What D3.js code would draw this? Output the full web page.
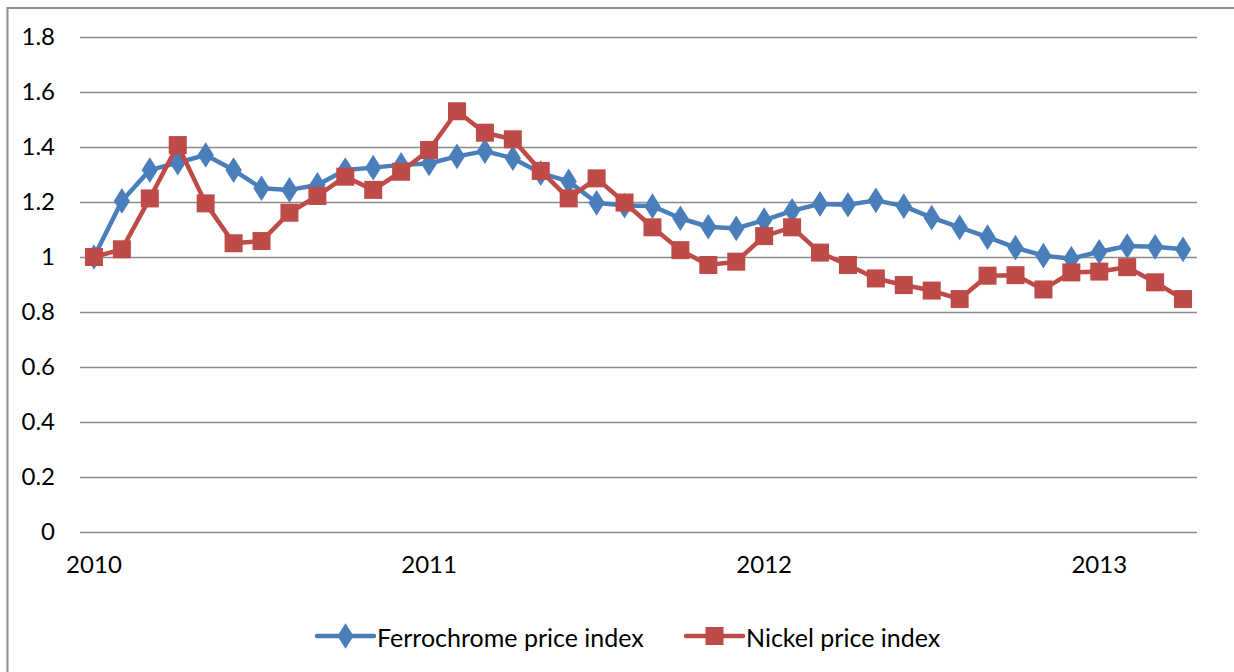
<!DOCTYPE html>
<html>
<head>
<meta charset="utf-8">
<script src="https://cdn.jsdelivr.net/npm/d3@7"></script>
<style>
  body { margin: 0; background: #fff; }
  text { font-family: Lato, "Open Sans", sans-serif; fill: #000; }
</style>
</head>
<body>
<div id="viz"></div>
<script>
const width = 1234;
const height = 672;
const margin = { top: 37, right: 37, bottom: 140, left: 80 };

// monthly index, Jan 2010 .. Apr 2013
const months = d3.range(40).map(i => new Date(2010, i, 1));
const yearTicks = ['2010', '2011', '2012', '2013'];
const yTicks = [0, 0.2, 0.4, 0.6, 0.8, 1, 1.2, 1.4, 1.6, 1.8];

const ferrochrome = [
  1.0, 1.204, 1.316, 1.343, 1.371, 1.316, 1.25, 1.244, 1.262, 1.316, 1.325, 1.335,
  1.34, 1.366, 1.385, 1.359, 1.305, 1.275, 1.197, 1.187, 1.185, 1.141, 1.11, 1.104,
  1.134, 1.168, 1.193, 1.19, 1.206, 1.185, 1.143, 1.108, 1.072, 1.034, 1.005, 0.994,
  1.019, 1.04, 1.037, 1.028
];
const nickel = [
  1.0, 1.028, 1.213, 1.407, 1.195, 1.05, 1.058, 1.161, 1.222, 1.292, 1.244, 1.31,
  1.389, 1.53, 1.452, 1.428, 1.313, 1.213, 1.286, 1.198, 1.108, 1.025, 0.971, 0.983,
  1.076, 1.108, 1.016, 0.971, 0.922, 0.898, 0.878, 0.847, 0.932, 0.934, 0.882, 0.944,
  0.947, 0.963, 0.908, 0.847
];

const blue = '#4a7ebb';
const red = '#be4b48';

const innerW = 1197 - margin.left;
const innerH = 532 - margin.top;

const svg = d3.select('#viz').append('svg')
  .attr('width', width)
  .attr('height', height);

// outer chart border
svg.append('rect')
  .attr('x', 7.5).attr('y', 8)
  .attr('width', 1240).attr('height', 700)
  .attr('fill', 'none')
  .attr('stroke', '#8c8c8c')
  .attr('stroke-width', 2);

const chart = svg.append('g')
  .attr('transform', `translate(${margin.left}, ${margin.top})`);

const x = d3.scaleBand()
  .domain(d3.range(months.length))
  .range([0, innerW]);

const y = d3.scaleLinear()
  .domain([0, 1.8])
  .range([innerH, 0]);

const cx = i => x(i) + x.bandwidth() / 2;

// gridlines
chart.append('g')
  .selectAll('line')
  .data(yTicks)
  .join('line')
    .attr('x1', 0).attr('x2', innerW)
    .attr('y1', d => Math.round(y(d)) + 0.5)
    .attr('y2', d => Math.round(y(d)) + 0.5)
    .attr('stroke', '#8a8a8a')
    .attr('stroke-width', 1.6);

// y axis labels
const yaxis = chart.append('g')
  .call(d3.axisLeft(y).tickValues(yTicks).tickSize(0).tickPadding(25)
    .tickFormat(d => d3.format('~g')(d)));
yaxis.select('.domain').remove();
yaxis.selectAll('text').style('font-size', '24px').style('font-family', 'Lato, sans-serif');

// x axis labels at January of each year
const janIdx = months.map((d, i) => i).filter(i => months[i].getMonth() === 0);
const xaxis = chart.append('g')
  .attr('transform', `translate(0, ${innerH})`)
  .call(d3.axisBottom(x).tickValues(janIdx).tickSize(0).tickPadding(24)
    .tickFormat((d, i) => yearTicks[i]));
xaxis.select('.domain').remove();
xaxis.selectAll('text').style('font-size', '24px').style('font-family', 'Lato, sans-serif');

const line = d3.line()
  .x((d, i) => cx(i))
  .y(d => y(d));

const diamond = d3.symbol().type(d3.symbolDiamond).size(190);

function drawSeries(data, color, marker) {
  chart.append('path')
    .datum(data)
    .attr('fill', 'none')
    .attr('stroke', color)
    .attr('stroke-width', 4.5)
    .attr('stroke-linejoin', 'round')
    .attr('d', line);
  const g = chart.append('g');
  if (marker === 'diamond') {
    g.selectAll('path')
      .data(data)
      .join('path')
        .attr('d', diamond)
        .attr('transform', (d, i) => `translate(${cx(i)}, ${y(d)}) scale(1.1, 1)`)
        .attr('fill', color);
  } else {
    g.selectAll('rect')
      .data(data)
      .join('rect')
        .attr('x', (d, i) => cx(i) - 9)
        .attr('y', d => y(d) - 9)
        .attr('width', 18).attr('height', 18)
        .attr('fill', color);
  }
}

drawSeries(ferrochrome, blue, 'diamond');
drawSeries(nickel, red, 'square');

// legend
const legendItems = [
  { name: 'Ferrochrome price index', color: blue, marker: 'diamond', x: 317 },
  { name: 'Nickel price index', color: red, marker: 'square', x: 686 }
];
const legend = svg.selectAll('.legend')
  .data(legendItems)
  .join('g')
    .attr('class', 'legend')
    .attr('transform', d => `translate(${d.x}, 636)`);

legend.append('line')
  .attr('x1', 0).attr('x2', 57)
  .attr('stroke', d => d.color)
  .attr('stroke-width', 4.5)
  .attr('stroke-linecap', 'round');

legend.each(function(d) {
  const g = d3.select(this);
  if (d.marker === 'diamond') {
    g.append('path').attr('d', diamond)
      .attr('transform', 'translate(28.5, 0) scale(1.1, 1)')
      .attr('fill', d.color);
  } else {
    g.append('rect').attr('x', 19.5).attr('y', -9).attr('width', 18).attr('height', 18)
      .attr('fill', d.color);
  }
});

legend.append('text')
  .attr('x', 60)
  .attr('y', 2)
  .attr('dy', '0.35em')
  .style('font-size', '25px')
  .text(d => d.name);
</script>
</body>
</html>
